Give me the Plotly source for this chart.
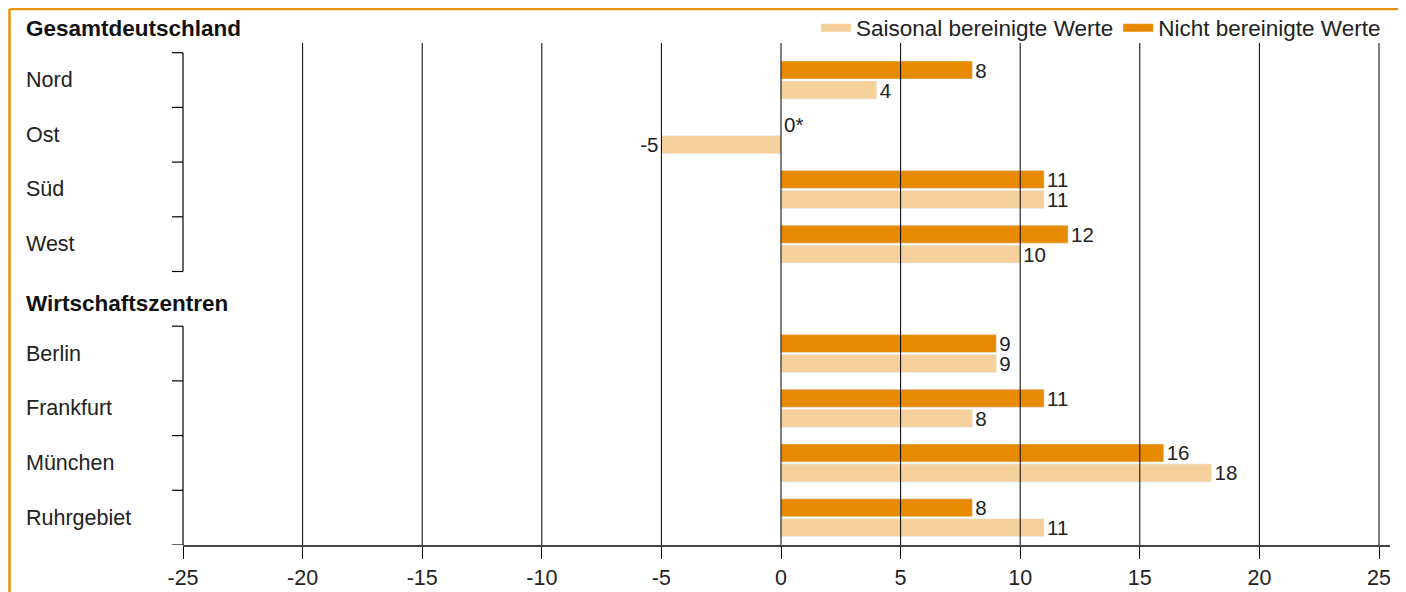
import plotly.graph_objects as go

# ---- data ----
group_titles = ["Gesamtdeutschland", "Wirtschaftszentren"]
group_members = [
    ["Nord", "Ost", "Süd", "West"],
    ["Berlin", "Frankfurt", "München", "Ruhrgebiet"],
]
nicht_bereinigt = [8, 0, 11, 12, 9, 11, 16, 8]
saisonal_bereinigt = [4, -5, 11, 10, 9, 8, 18, 11]
x_ticks = [-25, -20, -15, -10, -5, 0, 5, 10, 15, 20, 25]

DARK = "#E88A00"
LIGHT = "#F5D09A"
BORDER = "#E8900F"
FONT = "Liberation Sans, Arial, sans-serif"
TXT = "#222222"

# build y positions: header slot followed by member slots
cat_names, cat_pos, header_pos = [], [], []
p = 0
for title, members in zip(group_titles, group_members):
    header_pos.append(p)
    p += 1
    for m in members:
        cat_names.append(m)
        cat_pos.append(p)
        p += 1
y_bottom = p - 0.5
y_top = 0.323

OFF = 8  # page body margin
W, H = 1398, 584
# plot area in screen coords: x 183..1390, y 43..545
ML, MR, MT, MB = 183 - OFF, W - (1390 - OFF), 43 - OFF, H - (545 - OFF)
PW, PH = W - ML - MR, H - MT - MB


def px_x(sx):  # screen px -> paper
    return (sx - OFF - ML) / PW


def px_y(sy):
    return (H - MB - (sy - OFF)) / PH


def lbl(v):
    return f"{v}*" if v == 0 else str(v)


fig = go.Figure()
fig.add_trace(go.Bar(
    y=cat_pos, x=nicht_bereinigt, orientation="h", marker_color=DARK,
    text=[lbl(v) for v in nicht_bereinigt], textposition="outside", constraintext="none",
    textfont=dict(size=20.5, color=TXT, family=FONT), cliponaxis=False,
    showlegend=False, name="Nicht bereinigte Werte",
))
fig.add_trace(go.Bar(
    y=cat_pos, x=saisonal_bereinigt, orientation="h", marker_color=LIGHT,
    text=[lbl(v) for v in saisonal_bereinigt], textposition="outside", constraintext="none",
    textfont=dict(size=20.5, color=TXT, family=FONT), cliponaxis=False,
    showlegend=False, name="Saisonal bereinigte Werte",
))
# legend entries (line swatches)
fig.add_trace(go.Scatter(x=[None], y=[None], mode="lines", name="Saisonal bereinigte Werte",
                         line=dict(color=LIGHT, width=8)))
fig.add_trace(go.Scatter(x=[None], y=[None], mode="lines", name="Nicht bereinigte Werte",
                         line=dict(color=DARK, width=8)))

shapes = []
# vertical grid lines (drawn above bars)
for t in x_ticks[1:]:
    shapes.append(dict(type="line", xref="x", yref="paper", x0=t, x1=t, y0=0, y1=1,
                       line=dict(color="black", width=1), layer="above"))
# y bracket lines per group
tick_len = 11 / PW
for gi, title_p in enumerate(header_pos):
    n = len(group_members[gi])
    y0 = title_p + 0.5
    y1 = title_p + n + 0.5
    shapes.append(dict(type="line", xref="paper", yref="y", x0=0, x1=0, y0=y0, y1=y1,
                       line=dict(color="black", width=1.2)))
    for k in range(n + 1):
        yy = y0 + k
        shapes.append(dict(type="line", xref="paper", yref="y", x0=-tick_len, x1=0, y0=yy, y1=yy,
                           line=dict(color="black", width=1.2)))
# orange frame
bx0, bx1, by0, by1 = px_x(9.5), px_x(1402), px_y(H + 20), px_y(9)
for (xa, ya, xb, yb) in [(bx0, by0, bx0, by1), (bx0, by1, bx1, by1), (bx1, by1, bx1, by0)]:
    shapes.append(dict(type="line", xref="paper", yref="paper", x0=xa, y0=ya, x1=xb, y1=yb,
                       line=dict(color=BORDER, width=2.5)))

annotations = []
for name, pos in zip(cat_names, cat_pos):
    annotations.append(dict(text=name, xref="paper", yref="y", x=px_x(24), y=pos,
                            xanchor="left", yanchor="middle", showarrow=False,
                            font=dict(size=21.5, color=TXT, family=FONT)))
header_screen_y = [28, 303]
for title, sy in zip(group_titles, header_screen_y):
    annotations.append(dict(text=f"<b>{title}</b>", xref="paper", yref="paper", x=px_x(24),
                            y=px_y(sy), xanchor="left", yanchor="middle", showarrow=False,
                            font=dict(size=22.5, color="#111111", family=FONT)))

fig.update_layout(
    width=W, height=H,
    margin=dict(l=ML, r=MR, t=MT, b=MB, autoexpand=False),
    paper_bgcolor="white", plot_bgcolor="white",
    barmode="group", bargap=0.27, bargroupgap=0.1,
    font=dict(family=FONT, color=TXT),
    shapes=shapes, annotations=annotations,
    legend=dict(orientation="h", x=px_x(1386), xanchor="right", y=px_y(28), yanchor="middle",
                font=dict(size=22.5, color=TXT, family=FONT), itemwidth=30,
                bgcolor="rgba(0,0,0,0)", traceorder="normal"),
    xaxis=dict(range=[-25, 25.46], tickvals=x_ticks, ticktext=[str(t) for t in x_ticks],
               showgrid=False, zeroline=False, showline=True, linecolor="#444444", linewidth=1.5,
               ticks="outside", ticklen=12, tickcolor="black", tickwidth=1,
               tickfont=dict(size=21.5, color=TXT, family=FONT)),
    yaxis=dict(range=[y_bottom, y_top], showgrid=False, zeroline=False, showline=False,
               showticklabels=False, ticks=""),
)

fig.write_html("out.html")
